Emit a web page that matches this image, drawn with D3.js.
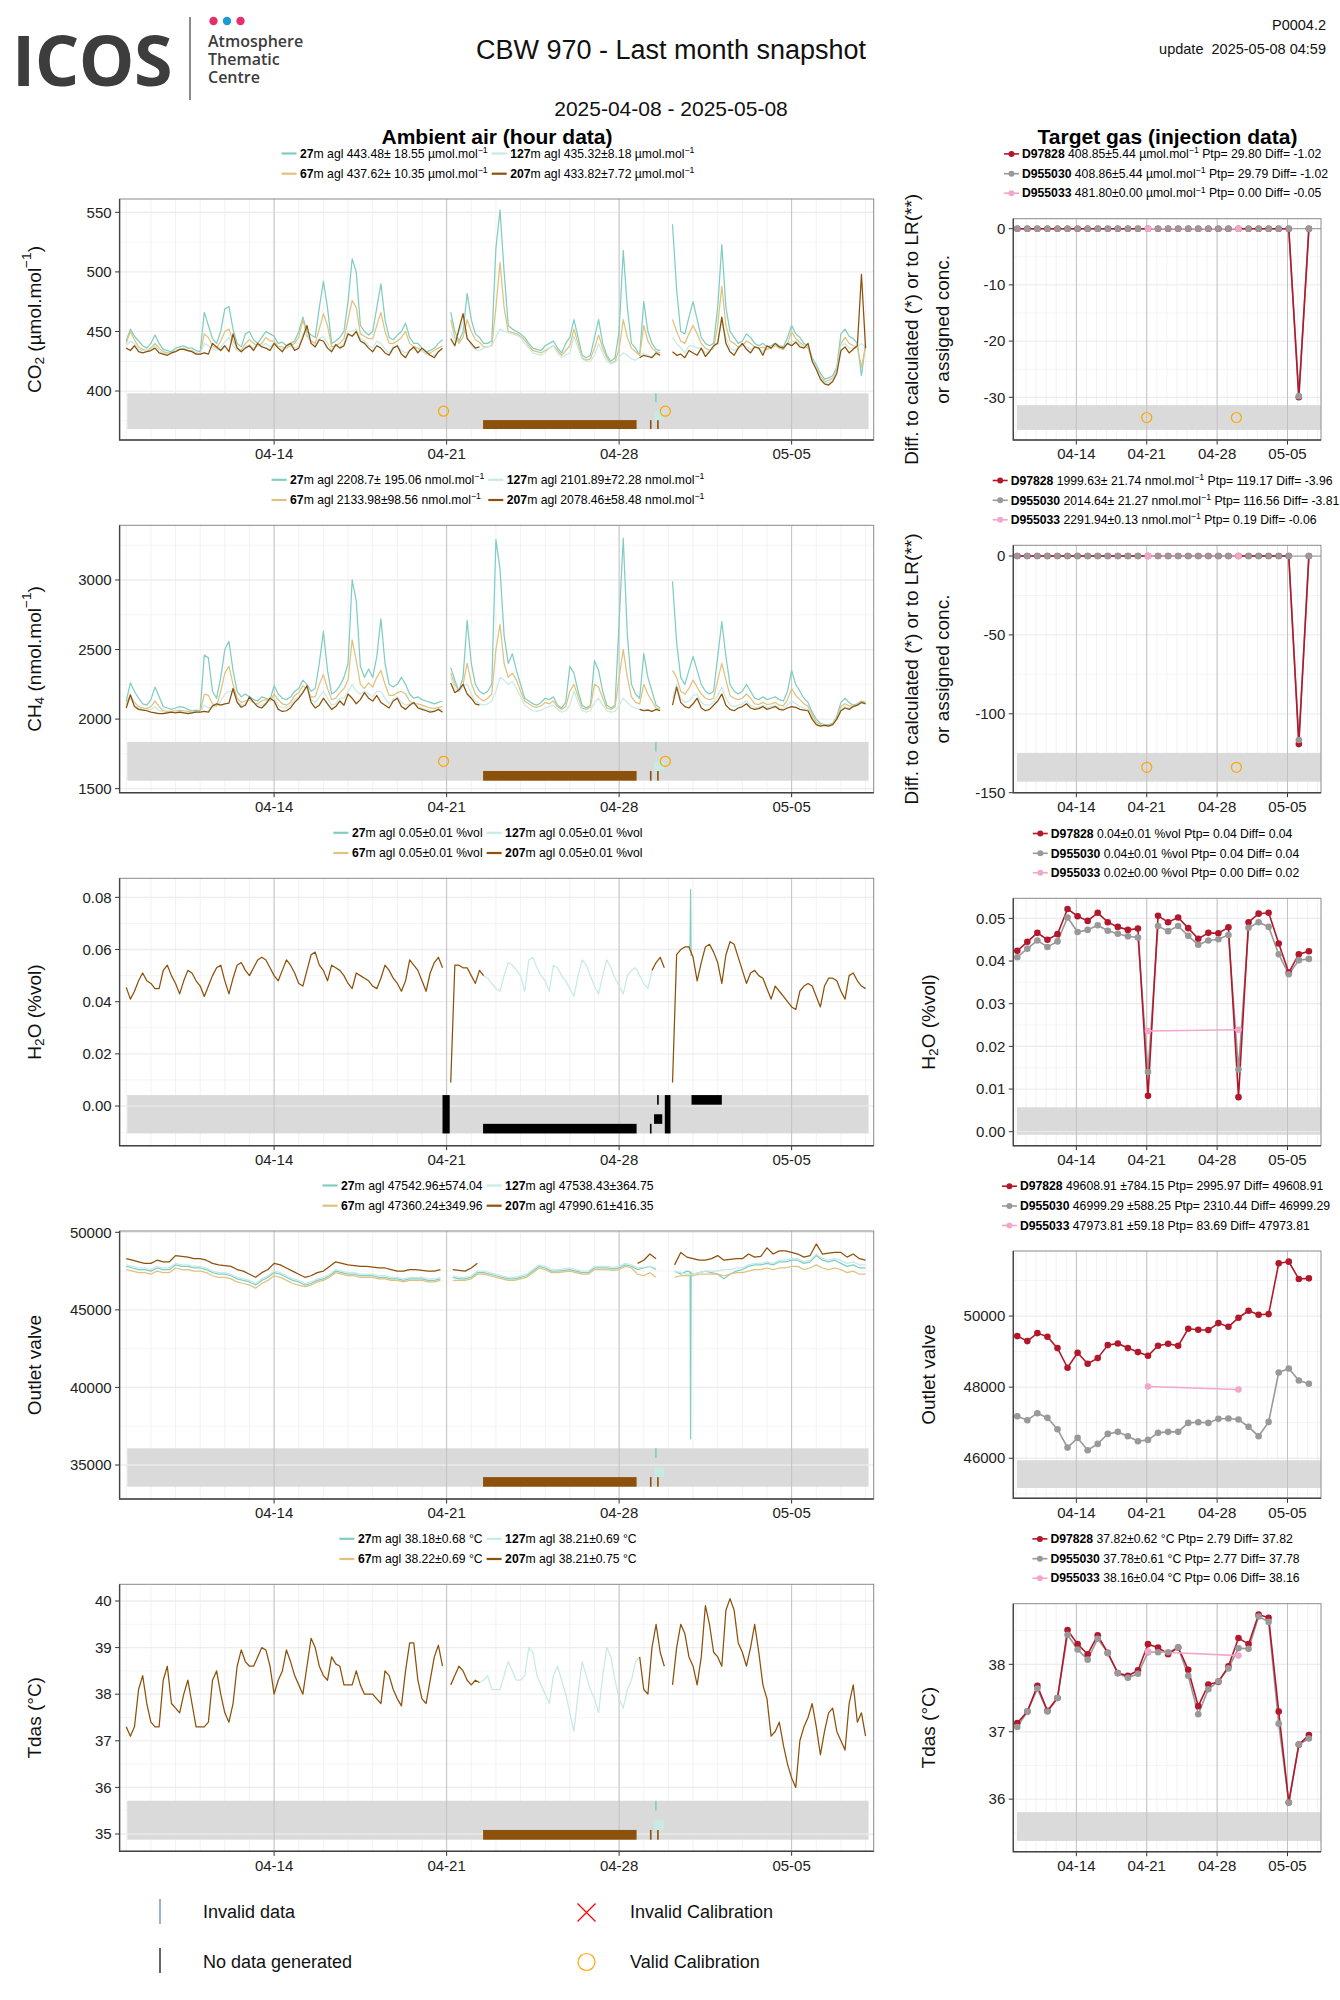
<!DOCTYPE html>
<html>
<head>
<meta charset="utf-8">
<script src="https://cdn.jsdelivr.net/npm/d3@7"></script>
<style>
  body { margin: 0; background: #fff; }
  svg { display: block; }
</style>
</head>
<body>
<script>
const _ = null;
const DAY = 864e5;
const T0 = Date.UTC(2025, 3, 8);           // 2025-04-08 00:00, grids start here

const heights = ["27", "67", "127", "207"];
const heightColors = ["#80cdc1", "#dfc27d", "#c7eae5", "#8c510a"];
const targetIds = ["D97828", "D955030", "D955033"];
const targetColors = ["#b2182b", "#999999", "#f1a7cc"];
const weekTicks = ["2025-04-14", "2025-04-21", "2025-04-28", "2025-05-05"];
const calibrations = ["2025-04-20T21:00Z", "2025-04-29T21:00Z"];
const targetCalibrations = ["2025-04-21T00:00Z", "2025-04-29T22:00Z"];

// CO2, 4-hourly, µmol/mol
const co2_27 = [
  442,452,446,442,438,436, 440,447,440,435,434,433, 436,437,438,436,436,434, 433,466,455,444,440,450,
  469,471,452,440,437,448, 450,443,440,445,450,448, 446,440,441,438,440,442, 450,462,450,447,445,470,
  492,470,440,442,445,450, 475,511,500,455,450,447, 450,470,490,460,445,443, 447,450,457,445,440,440,
  436,433,434,436,440,443, _,466,450,442,450,482, 460,448,445,440,440,442, 520,552,500,455,452,450,
  448,445,440,436,435,434, 438,440,442,436,432,440, 445,460,445,430,428,430, 445,460,440,430,425,428,
  450,518,470,440,436,430, 475,450,440,435,434,_, _,540,485,450,448,462, 475,460,445,440,438,440,
  470,523,470,450,445,440, 442,448,445,440,438,440, 437,438,440,438,437,445, 455,448,445,440,438,428,
  422,415,410,411,413,420, 448,452,446,444,440,413, 440];
const co2_67 = [
  440,450,443,437,435,434, 436,440,436,433,432,432, 434,435,436,434,434,432, 431,448,445,438,436,442,
  450,452,442,436,434,440, 443,440,438,440,445,442, 442,437,437,436,438,440, 445,460,446,442,440,452,
  465,455,437,438,440,444, 460,476,470,448,446,444, 444,455,466,450,440,440, 442,445,450,440,437,436,
  434,431,432,434,436,438, _,460,445,440,445,460, 450,443,441,437,437,438, 470,508,470,450,449,448,
  446,443,438,434,433,432, 434,436,438,434,430,434, 438,452,440,428,426,427, 436,447,436,428,423,425,
  435,460,445,436,433,430, 455,442,436,433,432,_, _,460,450,442,440,448, 455,448,440,436,434,436,
  455,488,455,442,440,437, 438,442,440,437,436,437, 435,436,438,436,435,440, 450,444,441,438,436,426,
  420,412,408,409,411,418, 440,445,440,438,437,420, 437];
const co2_127 = [
  438,442,440,435,434,434, 435,438,434,432,431,432, 434,435,435,434,433,432, 431,440,438,436,434,437,
  441,445,438,434,433,437, 439,436,438,438,440,437, 440,436,435,437,439,436, 438,448,448,440,438,444,
  446,440,434,438,437,440, 450,450,452,444,442,438, 436,442,440,435,432,437, 438,434,432,434,436,433,
  434,431,430,430,433,435, _,450,442,450,458,446, 438,435,434,436,437,438, 445,452,450,449,448,447,
  445,440,436,432,431,430, 432,436,438,432,428,430, 432,446,436,427,425,425, 430,440,432,425,423,424,
  428,432,430,427,426,428, 432,430,429,431,430,_, _,445,440,436,432,438, 438,436,436,432,434,437,
  442,458,445,436,434,436, 439,437,435,437,436,433, 437,436,439,437,436,440, 442,442,439,437,438,427,
  419,411,407,407,410,417, 438,440,436,436,437,440, 437];
const co2_207 = [
  436,434,438,433,432,433, 434,436,432,431,430,432, 433,435,435,434,433,431, 431,432,431,440,437,434,
  438,433,448,436,433,436, 438,434,440,437,436,434, 440,436,433,438,440,434, 436,445,455,440,437,443,
  442,436,433,439,436,438, 448,446,450,442,440,436, 433,438,436,432,430,436, 438,431,428,434,437,432,
  436,433,430,428,433,436, _,444,438,452,465,444, 440,436,437,_,_,_, _,_,_,_,_,_,
  _,_,_,_,_,_, _,_,_,_,_,_, _,_,_,_,_,_, _,_,_,_,_,_,
  _,_,_,_,_,428, 430,429,428,432,430,_, _,433,430,431,428,434, 432,430,436,429,433,438,
  440,462,440,433,430,436, 440,435,432,437,436,430, 438,436,440,437,436,440, 438,441,437,436,440,425,
  418,410,406,405,408,415, 434,437,432,435,438,498, 436];

// CH4, 4-hourly, nmol/mol
const ch4_27 = [
  2130,2260,2200,2150,2110,2100, 2140,2230,2160,2090,2080,2070, 2080,2090,2085,2070,2060,2065, 2060,2460,2440,2200,2150,2300,
  2500,2560,2350,2200,2160,2180, 2160,2140,2130,2160,2150,2140, 2240,2180,2150,2140,2160,2200, 2220,2280,2250,2200,2220,2400,
  2630,2350,2180,2200,2240,2300, 2400,3000,2850,2380,2300,2360, 2300,2450,2720,2400,2250,2230, 2250,2300,2250,2180,2150,2160,
  2140,2130,2120,2110,2120,2130, _,2370,2280,2200,2300,2710, 2400,2250,2200,2180,2200,2250, 3290,3080,2600,2400,2470,2350,
  2250,2150,2130,2110,2100,2120, 2150,2140,2160,2100,2080,2120, 2380,2330,2200,2100,2080,2100, 2420,2350,2200,2100,2080,2100,
  2700,3300,2600,2250,2180,2150, 2470,2300,2200,2100,2080,_, _,2990,2550,2300,2250,2350, 2450,2350,2250,2200,2180,2200,
  2450,2700,2450,2250,2200,2180, 2200,2250,2200,2150,2140,2160, 2140,2150,2160,2140,2130,2200, 2350,2250,2200,2150,2120,2050,
  2000,1970,1960,1960,1970,2020, 2120,2150,2120,2100,2110,2130, 2120];
const ch4_67 = [
  2110,2170,2120,2090,2080,2075, 2090,2130,2090,2060,2055,2055, 2060,2065,2060,2055,2050,2055, 2050,2180,2170,2110,2090,2200,
  2330,2380,2250,2150,2120,2130, 2140,2120,2110,2130,2140,2130, 2180,2140,2110,2100,2120,2170, 2190,2240,2220,2160,2160,2250,
  2320,2220,2140,2150,2190,2220, 2280,2570,2420,2250,2220,2260, 2230,2300,2350,2250,2170,2170, 2190,2200,2180,2130,2110,2110,
  2100,2090,2080,2075,2085,2090, _,2330,2250,2200,2250,2400, 2260,2180,2150,2130,2150,2180, 2500,2680,2400,2300,2330,2280,
  2200,2130,2110,2090,2085,2095, 2120,2110,2130,2090,2070,2090, 2200,2250,2160,2080,2070,2085, 2250,2230,2150,2080,2070,2085,
  2300,2500,2300,2160,2120,2110, 2250,2180,2130,2080,2070,_, _,2350,2300,2200,2180,2220, 2280,2230,2180,2150,2140,2150,
  2280,2400,2280,2170,2150,2140, 2150,2180,2150,2110,2105,2120, 2105,2110,2120,2100,2095,2140, 2220,2170,2140,2110,2090,2030,
  1980,1960,1955,1955,1965,2010, 2090,2110,2095,2095,2105,2125, 2115];
const ch4_127 = [
  2100,2150,2100,2080,2070,2065, 2070,2090,2060,2050,2045,2050, 2050,2055,2050,2045,2045,2050, 2050,2100,2080,2090,2090,2130,
  2180,2200,2200,2130,2100,2110, 2150,2120,2100,2100,2120,2140, 2150,2100,2080,2080,2100,2140, 2160,2200,2230,2140,2120,2160,
  2200,2150,2100,2110,2150,2150, 2200,2250,2200,2180,2200,2180, 2160,2200,2200,2150,2110,2140, 2160,2120,2100,2110,2120,2090,
  2080,2070,2060,2060,2075,2065, _,2300,2220,2200,2240,2250, 2180,2130,2110,2100,2110,2130, 2200,2300,2280,2250,2270,2220,
  2160,2100,2080,2060,2055,2065, 2080,2090,2100,2070,2050,2060, 2100,2200,2120,2060,2050,2060, 2120,2150,2100,2060,2050,2055,
  2100,2150,2120,2090,2080,2070, 2070,2070,2060,2070,2060,_, _,2150,2250,2150,2120,2130, 2170,2180,2120,2100,2100,2120,
  2170,2230,2150,2100,2090,2100, 2110,2130,2100,2085,2085,2100, 2085,2090,2100,2080,2075,2100, 2130,2110,2090,2080,2070,2010,
  1965,1955,1955,1952,1962,2005, 2070,2090,2080,2090,2100,2120, 2112];
const ch4_207 = [
  2080,2175,2090,2070,2065,2060, 2050,2045,2040,2040,2045,2050, 2045,2050,2045,2040,2045,2050, 2050,2055,2050,2095,2110,2100,
  2110,2115,2220,2120,2085,2100, 2160,2120,2090,2080,2110,2150, 2130,2070,2055,2060,2080,2120, 2150,2190,2240,2120,2080,2100,
  2150,2110,2070,2090,2130,2100, 2180,2150,2110,2140,2190,2150, 2130,2170,2120,2100,2080,2130, 2150,2090,2070,2100,2120,2080,
  2070,2060,2050,2055,2070,2050, _,2260,2190,2210,2250,2180, 2150,2110,2100,_,_,_, _,_,_,_,_,_,
  _,_,_,_,_,_, _,_,_,_,_,_, _,_,_,_,_,_, _,_,_,_,_,_,
  _,_,_,_,_,2070, 2060,2065,2055,2070,2060,_, _,2100,2230,2120,2090,2080, 2110,2150,2080,2060,2070,2100,
  2130,2180,2100,2070,2060,2080, 2090,2110,2080,2070,2075,2090, 2070,2080,2090,2070,2065,2080, 2090,2085,2070,2065,2060,2000,
  1960,1950,1955,1950,1960,2000, 2060,2080,2070,2090,2100,2120, 2110];

// H2O, 4-hourly, %vol
const h2o_127 = [
  _,_,_,_,_,_, _,_,_,_,_,_, _,_,_,_,_,_, _,_,_,_,_,_,
  _,_,_,_,_,_, _,_,_,_,_,_, _,_,_,_,_,_, _,_,_,_,_,_,
  _,_,_,_,_,_, _,_,_,_,_,_, _,_,_,_,_,_, _,_,_,_,_,_,
  _,_,_,_,_,_, _,_,_,_,_,_, _,_,0.052,0.050,0.049,0.047, 0.045,0.044,0.050,0.055,0.054,0.052,
  0.050,0.044,0.056,0.057,0.053,0.050, 0.048,0.044,0.054,0.053,0.050,0.048, 0.045,0.042,0.050,0.056,0.054,0.050, 0.046,0.043,0.050,0.056,0.053,0.049,
  0.046,0.043,0.050,0.052,0.053,0.050, 0.047,0.045,0.052,_,_,_, _,_,_,_,_,_, _,_,_,_,_,_,
  _,_,_,_,_,_, _,_,_,_,_,_, _,_,_,_,_,_, _,_,_,_,_,_,
  _,_,_,_,_,_, _,_,_,_,_,_, _];
const h2o_207 = [
  0.0455,0.041,0.044,0.048,0.051,0.048, 0.047,0.045,0.045,0.052,0.054,0.050, 0.047,0.043,0.048,0.052,0.051,0.048, 0.046,0.042,0.046,0.050,0.053,0.054,
  0.048,0.043,0.049,0.054,0.055,0.052, 0.050,0.053,0.056,0.057,0.056,0.053, 0.050,0.048,0.052,0.056,0.054,0.051, 0.047,0.046,0.052,0.058,0.059,0.054,
  0.052,0.048,0.054,0.053,0.052,0.050, 0.047,0.045,0.051,0.050,0.049,0.048, 0.046,0.045,0.049,0.054,0.052,0.049, 0.047,0.044,0.048,0.056,0.054,0.052,
  0.048,0.044,0.051,0.055,0.057,0.053, _,0.009,0.054,0.054,0.053,0.053, 0.050,0.047,0.052,0.050,_,_, _,_,_,_,_,_,
  _,_,_,_,_,_, _,_,_,_,_,_, _,_,_,_,_,_, _,_,_,_,_,_,
  _,_,_,_,_,_, _,_,0.052,0.055,0.057,0.053, _,0.009,0.058,0.060,0.061,0.061, 0.057,0.048,0.055,0.061,0.062,0.059,
  0.055,0.047,0.058,0.063,0.062,0.057, 0.052,0.047,0.051,0.052,0.050,0.049, 0.045,0.041,0.046,0.044,0.042,0.040, 0.038,0.037,0.044,0.046,0.047,0.046,
  0.042,0.038,0.046,0.049,0.049,0.048, 0.044,0.041,0.050,0.051,0.048,0.046, 0.045];
const h2o_27_spike = [[22.84, 0.0605], [22.88, 0.062], [22.9, 0.083], [22.92, 0.0575]];

// Outlet valve, 6-hourly
const out_27 = [
  47800,47700,47600,47600, 47500,47700,47600,47600, 47900,47800,47800,47700, 47700,47600,47400,47300,
  47300,47200,47000,46900, 46800,46600,46900,47100, 47400,47300,47100,46900, 46800,46600,46700,46900,
  47000,47200,47500,47400, 47300,47300,47200,47200, 47200,47100,47100,47000, 47000,46900,47000,47000,
  47000,46900,46900,47000, _,47100,47000,47000, 47100,47400,47400,47300, 47200,47100,47000,47000,
  47100,47200,47500,47800, 47700,47500,47500,47550, 47600,47500,47400,47400, 47700,47700,47700,47650,
  47700,47900,47800,47600, 47700,47800,47600,_, _,47500,47300,47500, 47300,47400,47500,47400,
  47300,47000,47300,47500, 47600,47800,47900,47900, 48000,47900,48100,48100, 48200,48200,48000,48100,
  48500,48200,48100,48200, 48000,47800,47900,47700, 47700];
const out_27_spike = [[22.88, 47450], [22.9, 36700], [22.92, 47400]];
const out_67 = [
  47600,47500,47400,47400, 47300,47500,47400,47400, 47700,47600,47600,47500, 47500,47400,47200,47100,
  47100,47000,46800,46700, 46600,46400,46700,46900, 47200,47100,46900,46700, 46600,46500,46600,46800,
  46900,47100,47400,47300, 47200,47200,47100,47100, 47100,47000,47000,46900, 46900,46800,46900,46900,
  46900,46800,46800,46900, _,46900,46900,46900, 47000,47300,47300,47200, 47100,47000,46900,46900,
  47000,47100,47400,47700, 47600,47400,47400,47450, 47500,47400,47300,47300, 47600,47600,47600,47550,
  47600,47800,47700,47300, 47200,47400,47100,_, _,47100,47200,47200, 47200,47300,47300,47300,
  47300,47200,47300,47400, 47400,47500,47600,47600, 47700,47600,47700,47700, 47800,47800,47600,47700,
  47900,47700,47600,47700, 47600,47400,47500,47300, 47300];
const out_127 = [
  47900,47800,47700,47700, 47600,47800,47700,47700, 48000,47900,47900,47800, 47800,47700,47500,47400,
  47400,47300,47100,47000, 46900,46700,47000,47200, 47500,47400,47200,47000, 46900,46700,46800,47000,
  47100,47300,47600,47500, 47400,47400,47300,47300, 47300,47200,47200,47100, 47100,47000,47100,47100,
  47100,47000,47000,47100, _,47200,47100,47100, 47200,47500,47500,47400, 47300,47200,47100,47100,
  47200,47300,47600,47900, 47800,47600,47600,47650, 47700,47600,47500,47500, 47800,47800,47800,47750,
  47800,48000,47900,47700, 47750,47800,47700,_, _,47500,47400,47300, 47300,47400,47500,47500,
  47500,47600,47600,47700, 47700,47900,48000,48000, 48100,48000,48200,48200, 48300,48300,48100,48200,
  48600,48300,48200,48300, 48200,48000,48100,47900, 47900];
const out_207 = [
  48300,48200,48100,48000, 48000,48200,48100,48100, 48500,48450,48400,48300, 48300,48200,48000,47900,
  47850,47800,47600,47500, 47300,47100,47400,47600, 48000,47900,47700,47500, 47300,47100,47200,47400,
  47500,47800,48100,48000, 47900,47850,47800,47800, 47750,47700,47700,47600, 47500,47500,47600,47600,
  47550,47500,47500,47600, _,47600,47550,47500, 47700,48000,_,_, _,_,_,_,
  _,_,_,_, _,_,_,_, _,_,_,_, _,_,_,_,
  _,_,_,48000, 48200,48600,48300,_, _,47900,48700,48400, 48300,48200,48200,48300,
  48500,48200,48250,48300, 48300,48600,48400,48450, 49000,48600,48800,48800, 48700,48600,48400,48500,
  49250,48600,48650,48700, 48700,48400,48600,48300, 48200];

// Tdas, 4-hourly, °C
const tdas_127 = [
  _,_,_,_,_,_, _,_,_,_,_,_, _,_,_,_,_,_, _,_,_,_,_,_,
  _,_,_,_,_,_, _,_,_,_,_,_, _,_,_,_,_,_, _,_,_,_,_,_,
  _,_,_,_,_,_, _,_,_,_,_,_, _,_,_,_,_,_, _,_,_,_,_,_,
  _,_,_,_,_,_, _,_,_,_,_,_, _,_,38.25,38.3,38.4,38.1, 38.1,38.1,38.4,38.7,38.5,38.3,
  38.3,38.4,39.0,38.9,38.4,38.2, 38.0,37.8,38.4,38.6,38.3,38.0, 37.6,37.2,38.0,38.7,38.4,38.1, 37.9,37.6,38.4,39.0,38.8,38.3,
  37.9,37.7,38.1,38.3,38.7,38.8, _,_,_,_,_,_, _,_,_,_,_,_, _,_,_,_,_,_,
  _,_,_,_,_,_, _,_,_,_,_,_, _,_,_,_,_,_, _,_,_,_,_,_,
  _,_,_,_,_,_, _,_,_,_,_,_, _];
const tdas_207 = [
  37.3,37.1,37.3,38.1,38.4,37.8, 37.4,37.3,37.3,38.3,38.6,37.8, 37.7,37.6,38.0,38.3,37.8,37.3, 37.3,37.3,37.4,38.3,38.5,38.0,
  37.6,37.4,37.8,38.6,38.95,38.7, 38.6,38.6,38.8,39.0,38.95,38.6, 38.0,38.3,38.5,38.95,38.7,38.4, 38.2,38.0,38.6,39.2,39.0,38.6,
  38.4,38.3,38.8,38.65,38.6,38.2, 38.2,38.2,38.5,38.2,38.0,38.0, 38.0,37.9,37.8,38.5,38.4,38.1, 37.9,37.75,38.5,39.1,39.1,38.3,
  37.9,37.8,38.3,38.8,39.05,38.6, _,38.2,38.4,38.6,38.5,38.3, 38.2,38.3,38.25,_,_,_, _,_,_,_,_,_,
  _,_,_,_,_,_, _,_,_,_,_,_, _,_,_,_,_,_, _,_,_,_,_,_,
  _,_,_,_,_,38.8, 38.1,38.0,39.0,39.5,38.9,38.6, _,38.2,39.0,39.5,39.3,38.8, 38.6,38.2,38.8,39.9,39.5,38.9,
  38.8,38.6,39.8,40.05,39.8,39.1, 38.9,38.6,39.0,39.5,38.9,38.2, 37.9,37.1,37.2,37.4,36.9,36.5, 36.2,36.0,37.0,37.3,37.5,37.8,
  37.3,36.7,37.2,37.6,37.7,37.2, 37.0,36.8,37.8,38.2,37.4,37.6, 37.1];

// Target gas injections, one per day (04-08 .. 05-07)
const co2T_red  = [0,0,0,0,0,0,0,0,0,0,0,0,0,0,0,0,0,0,0,0,0,0,0,0,0,0,0,0,-30.0,0];
const co2T_gray = [0,0,0,0,0,0,0,0,0,0,0,0,0,0,0,0,0,0,0,0,0,0,0,0,0,0,0,0,-29.8,0];
const co2T_pink = [0, 0];
const ch4T_red  = [0,0,0,0,0,0,0,0,0,0,0,0,0,0,0,0,0,0,0,0,0,0,0,0,0,0,0,0,-119.2,0];
const ch4T_gray = [0,0,0,0,0,0,0,0,0,0,0,0,0,0,0,0,0,0,0,0,0,0,0,0,0,0,0,0,-116.6,0];
const ch4T_pink = [0, 0];
const h2oT_red  = [0.0424,0.0445,0.0466,0.0450,0.0463,0.0522,0.0505,0.0494,0.0513,0.0491,0.0480,0.0473,0.0476,0.0084,0.0506,
                   0.0491,0.0502,0.0477,0.0452,0.0466,0.0465,0.0479,0.0081,0.0491,0.0511,0.0513,0.0441,0.0373,0.0416,0.0423];
const h2oT_gray = [0.0409,0.0429,0.0448,0.0433,0.0446,0.0502,0.0468,0.0473,0.0484,0.0471,0.0464,0.0458,0.0455,0.0140,0.0482,
                   0.0470,0.0482,0.0459,0.0438,0.0448,0.0451,0.0461,0.0146,0.0478,0.0491,0.0480,0.0416,0.0369,0.0402,0.0405];
const h2oT_pink = [0.0236, 0.0239];
const outT_red  = [49437,49296,49521,49418,49099,48545,48967,48657,48817,49183,49230,49099,48986,48883,49164,
                   49221,49164,49643,49615,49606,49803,49700,49953,50150,50038,50056,51484,51531,51042,51061];
const outT_gray = [47183,47070,47267,47136,46817,46300,46573,46225,46404,46685,46742,46620,46479,46516,46714,
                   46742,46742,46995,47014,46995,47108,47117,47089,46883,46620,47023,48413,48526,48188,48094];
const outT_pink = [48019, 47934];
const tdasT_red  = [37.13,37.30,37.68,37.31,37.50,38.51,38.30,38.15,38.43,38.17,37.87,37.83,37.91,38.30,38.25,
                    38.15,38.25,37.92,37.38,37.70,37.74,37.97,38.39,38.30,38.74,38.69,37.30,35.95,36.81,36.95];
const tdasT_gray = [37.07,37.30,37.64,37.30,37.50,38.44,38.22,38.07,38.38,38.17,37.87,37.80,37.86,38.18,38.18,
                    38.18,38.25,37.83,37.26,37.63,37.75,37.94,38.24,38.23,38.71,38.63,37.12,35.95,36.81,36.90];
const tdasT_pink = [38.19, 38.13];
const pinkIndex = [13, 22];

// flag bars in the grey strip: [from, to, row (1..4, 0 = all), colour]
const flagsStd = [
  ["2025-04-22T11:30Z", "2025-04-28T17:00Z", 4, "#8c510a"],
  ["2025-04-29T06:00Z", "2025-04-29T06:50Z", 4, "#8c510a"],
  ["2025-04-29T13:00Z", "2025-04-29T13:50Z", 4, "#8c510a"],
  ["2025-04-29T10:00Z", "2025-04-29T20:00Z", 3, "#c7eae5"],
  ["2025-04-29T11:00Z", "2025-04-29T11:50Z", 1, "#80cdc1"]
];
const flagsH2O = [
  ["2025-04-20T20:00Z", "2025-04-21T03:00Z", 0, "#000"],
  ["2025-04-22T11:30Z", "2025-04-28T17:00Z", 4, "#000"],
  ["2025-04-29T06:00Z", "2025-04-29T06:50Z", 4, "#000"],
  ["2025-04-29T13:00Z", "2025-04-29T13:50Z", 1, "#000"],
  ["2025-04-29T10:00Z", "2025-04-29T18:00Z", 3, "#000"],
  ["2025-04-29T20:30Z", "2025-04-30T02:00Z", 0, "#000"],
  ["2025-04-30T22:30Z", "2025-05-02T04:00Z", 1, "#000"]
];

// legend statistics
const co2Stats  = ["443.48\u00b1 18.55 ", "437.62\u00b1 10.35 ", "435.32\u00b18.18 ", "433.82\u00b17.72 "];
const ch4Stats  = ["2208.7\u00b1 195.06 ", "2133.98\u00b198.56 ", "2101.89\u00b172.28 ", "2078.46\u00b158.48 "];
const h2oStats  = ["0.05\u00b10.01 %vol", "0.05\u00b10.01 %vol", "0.05\u00b10.01 %vol", "0.05\u00b10.01 %vol"];
const outStats  = ["47542.96\u00b1574.04", "47360.24\u00b1349.96", "47538.43\u00b1364.75", "47990.61\u00b1416.35"];
const tdasStats = ["38.18\u00b10.68 \u00b0C", "38.22\u00b10.69 \u00b0C", "38.21\u00b10.69 \u00b0C", "38.21\u00b10.75 \u00b0C"];
const co2TStats  = ["408.85\u00b15.44 ", "408.86\u00b15.44 ", "481.80\u00b10.00 "];
const co2TTail   = ["Ptp= 29.80 Diff= -1.02", "Ptp= 29.79 Diff= -1.02", "Ptp= 0.00 Diff= -0.05"];
const ch4TStats  = ["1999.63\u00b1 21.74 ", "2014.64\u00b1 21.27 ", "2291.94\u00b10.13 "];
const ch4TTail   = ["Ptp= 119.17 Diff= -3.96", "Ptp= 116.56 Diff= -3.81", "Ptp= 0.19 Diff= -0.06"];
const h2oTStats  = ["0.04\u00b10.01 %vol Ptp= 0.04 Diff= 0.04", "0.04\u00b10.01 %vol Ptp= 0.04 Diff= 0.04", "0.02\u00b10.00 %vol Ptp= 0.00 Diff= 0.02"];
const outTStats  = ["49608.91 \u00b1784.15  Ptp= 2995.97 Diff= 49608.91", "46999.29 \u00b1588.25  Ptp= 2310.44 Diff= 46999.29", "47973.81 \u00b159.18  Ptp= 83.69 Diff= 47973.81"];
const tdasTStats = ["37.82\u00b10.62 \u00b0C Ptp= 2.79 Diff= 37.82", "37.78\u00b10.61 \u00b0C Ptp= 2.77 Diff= 37.78", "38.16\u00b10.04 \u00b0C Ptp= 0.06 Diff= 38.16"];

// ---- drawing ----
const W = 1340, H = 2000;
const FONT = "'Liberation Sans', Arial, Helvetica, sans-serif";
const svg = d3.select("body").append("svg")
  .attr("width", W).attr("height", H)
  .attr("viewBox", [0, 0, W, H])
  .style("font-family", FONT);
svg.append("rect").attr("width", W).attr("height", H).attr("fill", "#fff");

const xDomain = [new Date(T0 - 0.27 * DAY), new Date(T0 + 30.33 * DAY)];
const xMain = d3.scaleUtc().domain(xDomain).range([119.6, 873.7]);
const xTarget = d3.scaleUtc().domain(xDomain).range([1013.3, 1321]);
const days = d3.utcDay.range(d3.utcDay.ceil(xDomain[0]), xDomain[1]);
const weeks = weekTicks.map(s => new Date(s + "T00:00Z"));

function grid(vals, stepH) {
  return vals.map((v, i) => ({ t: new Date(T0 + i * stepH * 36e5), v }));
}
function pairs(arr) {
  return arr.map(([d, v]) => ({ t: new Date(T0 + d * DAY), v }));
}
function merged(vals, stepH, extra) {
  return grid(vals, stepH).concat(pairs(extra)).sort((a, b) => a.t - b.t);
}

// text with bold / superscript / subscript pieces
function rich(t, parts, fs) {
  let shift = 0;
  parts.forEach(([s, k]) => {
    const ts = t.append("tspan").text(s);
    if (k === "b") ts.attr("font-weight", "bold");
    if (k === "sup" || k === "sub") {
      const dy = k === "sup" ? -fs * 0.4 : fs * 0.28;
      ts.attr("font-size", fs * 0.72).attr("dy", dy);
      shift = dy;
    } else if (shift) {
      ts.attr("dy", -shift);
      shift = 0;
    }
  });
  return t;
}

function fmtNum(v, dec) {
  return dec ? v.toFixed(dec) : String(Math.round(v));
}

function drawFrame(p, x) {
  const [L, R] = x.range();
  const y = d3.scaleLinear().domain(p.y).range([p.bottom, p.top]);
  const g = svg.append("g");
  const step = p.ticks[1] - p.ticks[0];
  const minors = d3.range(p.ticks[0] - step / 2, p.y[1], step).filter(v => v > p.y[0] && v < p.y[1]);

  g.selectAll(".minY").data(minors).join("line")
    .attr("x1", L).attr("x2", R).attr("y1", d => y(d)).attr("y2", d => y(d))
    .attr("stroke", "#f0f0f0").attr("stroke-width", 0.7);
  g.selectAll(".minX").data(days).join("line")
    .attr("x1", d => x(d)).attr("x2", d => x(d)).attr("y1", p.top).attr("y2", p.bottom)
    .attr("stroke", "#ececec").attr("stroke-width", 0.7);

  // grey flag strip
  g.append("rect")
    .attr("x", x(new Date(T0)) + 1).attr("width", x(new Date(T0 + 30 * DAY)) - x(new Date(T0)) + 2)
    .attr("y", y(p.band[1])).attr("height", y(p.band[0]) - y(p.band[1]))
    .attr("fill", "#dadada");

  g.selectAll(".majY").data(p.ticks.filter(v => v >= p.y[0] && v <= p.y[1])).join("line")
    .attr("x1", L).attr("x2", R).attr("y1", d => y(d)).attr("y2", d => y(d))
    .attr("stroke", "#ebebeb").attr("stroke-width", 1.3).attr("stroke-opacity", 0.9);
  g.selectAll(".majX").data(weeks).join("line")
    .attr("x1", d => x(d)).attr("x2", d => x(d)).attr("y1", p.top).attr("y2", p.bottom)
    .attr("stroke", "#c2c2c2").attr("stroke-width", 1);

  // axes
  const yAxis = g.append("g");
  yAxis.selectAll("line").data(p.ticks).join("line")
    .attr("x1", L - 4.5).attr("x2", L).attr("y1", d => y(d)).attr("y2", d => y(d))
    .attr("stroke", "#333").attr("stroke-width", 1);
  yAxis.selectAll("text").data(p.ticks).join("text")
    .attr("x", L - 8).attr("y", d => y(d)).attr("dy", "0.35em")
    .attr("text-anchor", "end").attr("font-size", 15).attr("fill", "#222")
    .text(d => fmtNum(d, p.dec));
  const xAxis = g.append("g");
  xAxis.selectAll("line").data(weeks).join("line")
    .attr("x1", d => x(d)).attr("x2", d => x(d)).attr("y1", p.bottom).attr("y2", p.bottom + 4.5)
    .attr("stroke", "#333").attr("stroke-width", 1);
  xAxis.selectAll("text").data(weeks).join("text")
    .attr("x", d => x(d)).attr("y", p.bottom + 14).attr("dy", "0.35em")
    .attr("text-anchor", "middle").attr("font-size", 15).attr("fill", "#222")
    .text(d3.utcFormat("%m-%d"));

  return { y, g, L, R };
}

function drawBorder(p, L, R) {
  svg.append("rect").attr("x", L).attr("y", p.top).attr("width", R - L).attr("height", p.bottom - p.top)
    .attr("fill", "none").attr("stroke", "#8a8a8a").attr("stroke-width", 1);
  svg.append("path").attr("d", `M${L},${p.top}V${p.bottom}H${R}`)
    .attr("fill", "none").attr("stroke", "#444").attr("stroke-width", 1.4);
}

function drawFlags(p, x, y, flags) {
  const top = y(p.band[1]), bot = y(p.band[0]);
  const rowH = (bot - top) / 4;
  flags.forEach(([a, b, row, col]) => {
    const x0 = x(new Date(a)), x1 = x(new Date(b));
    svg.append("rect")
      .attr("x", x0).attr("width", Math.max(1.6, x1 - x0))
      .attr("y", row ? top + (row - 1) * rowH : top).attr("height", row ? rowH : bot - top)
      .attr("fill", col);
  });
}

function drawCal(p, x, y, dates) {
  const cy = y((p.band[0] + p.band[1]) / 2);
  dates.forEach(s => {
    svg.append("circle").attr("cx", x(new Date(s))).attr("cy", cy).attr("r", 5)
      .attr("fill", "none").attr("stroke", "#ffa500").attr("stroke-width", 1.2);
  });
}

function yTitle(cx, cy, parts) {
  const t = svg.append("text").attr("transform", `translate(${cx},${cy}) rotate(-90)`)
    .attr("text-anchor", "middle").attr("dominant-baseline", "central")
    .attr("font-size", 19).attr("fill", "#111");
  rich(t, parts, 19);
}

// legend for the hourly panels: two columns, centred
function mainLegend(p, stats, unitParts) {
  const rows = [p.top - 45.5, p.top - 25.3];
  const order = [[0, 1], [2, 3]];   // columns: (27, 67) and (127, 207)
  const g = svg.append("g");
  const cols = order.map(col => col.map((k, r) => {
    const t = g.append("text").attr("y", rows[r]).attr("dy", "0.35em").attr("font-size", 12.2);
    rich(t, [[heights[k], "b"], ["m agl " + stats[k], ""]].concat(unitParts), 12.2);
    return { t, k, r, w: t.node().getComputedTextLength() };
  }));
  const colW = cols.map(c => d3.max(c, d => d.w));
  const key = 15, gap = 3.5, colGap = 4;
  const total = key + gap + colW[0] + colGap + key + gap + colW[1];
  let x0 = 488 - total / 2;
  cols.forEach((c, ci) => {
    c.forEach(d => {
      g.append("line").attr("x1", x0).attr("x2", x0 + key).attr("y1", rows[d.r]).attr("y2", rows[d.r])
        .attr("stroke", heightColors[d.k]).attr("stroke-width", 2.2);
      d.t.attr("x", x0 + key + gap);
    });
    x0 += key + gap + colW[ci] + colGap;
  });
}

function targetLegend(p, stats, unitParts, tails) {
  const rows = [p.top - 64.8, p.top - 45, p.top - 25.5];
  const g = svg.append("g");
  const items = targetIds.map((id, i) => {
    const t = g.append("text").attr("y", rows[i]).attr("dy", "0.35em").attr("font-size", 12.2);
    let parts = [[id, "b"], [" " + stats[i], ""]];
    if (unitParts) parts = parts.concat(unitParts, [[" " + tails[i], ""]]);
    rich(t, parts, 12.2);
    return { t, w: t.node().getComputedTextLength() };
  });
  const key = 15, gap = 3;
  const total = key + gap + d3.max(items, d => d.w);
  const x0 = 1166 - total / 2;
  items.forEach((d, i) => {
    g.append("line").attr("x1", x0).attr("x2", x0 + key).attr("y1", rows[i]).attr("y2", rows[i])
      .attr("stroke", targetColors[i]).attr("stroke-width", 1.6);
    g.append("circle").attr("cx", x0 + key / 2).attr("cy", rows[i]).attr("r", 3).attr("fill", targetColors[i]);
    d.t.attr("x", x0 + key + gap);
  });
}

// ---- main (hourly) panels ----
const umol = [["\u00b5mol.mol", ""], ["\u22121", "sup"]];
const nmol = [["nmol.mol", ""], ["\u22121", "sup"]];

const mainPanels = [
  { top: 199, bottom: 440, y: [358.9, 561.2], ticks: [400, 450, 500, 550], band: [368.1, 398.1],
    series: [grid(co2_27, 4), grid(co2_67, 4), grid(co2_127, 4), grid(co2_207, 4)],
    colors: heightColors, flags: flagsStd, cal: true, stats: co2Stats, unit: umol,
    title: [["CO", ""], ["2", "sub"], [" (\u00b5mol.mol", ""], ["\u22121", "sup"], [")", ""]] },
  { top: 525.3, bottom: 792.7, y: [1471, 3393], ticks: [1500, 2000, 2500, 3000], band: [1557.5, 1836],
    series: [grid(ch4_27, 4), grid(ch4_67, 4), grid(ch4_127, 4), grid(ch4_207, 4)],
    colors: heightColors, flags: flagsStd, cal: true, stats: ch4Stats, unit: nmol,
    title: [["CH", ""], ["4", "sub"], [" (nmol.mol", ""], ["\u22121", "sup"], [")", ""]] },
  { top: 878.3, bottom: 1145.7, y: [-0.0152, 0.0873], ticks: [0, 0.02, 0.04, 0.06, 0.08], dec: 2,
    band: [-0.0105, 0.0042],
    series: [pairs(h2o_27_spike), grid(h2o_127, 4), grid(h2o_207, 4)],
    colors: [heightColors[0], heightColors[2], heightColors[3]], flags: flagsH2O, cal: false,
    stats: h2oStats, unit: [],
    title: [["H", ""], ["2", "sub"], ["O (%vol)", ""]] },
  { top: 1231, bottom: 1499, y: [32808, 50084], ticks: [35000, 40000, 45000, 50000], band: [33600, 36076],
    series: [merged(out_27, 6, out_27_spike), grid(out_67, 6), grid(out_127, 6), grid(out_207, 6)],
    colors: heightColors, flags: flagsStd, cal: false, stats: outStats, unit: [],
    title: [["Outlet valve", ""]] },
  { top: 1584.3, bottom: 1851.3, y: [34.629, 40.358], ticks: [35, 36, 37, 38, 39, 40], band: [34.878, 35.714],
    series: [grid(tdas_127, 4), grid(tdas_207, 4)],
    colors: [heightColors[2], heightColors[3]], flags: flagsStd, cal: false, stats: tdasStats, unit: [],
    title: [["Tdas (\u00b0C)", ""]] }
];

mainPanels.forEach((p, i) => {
  const { y, L, R } = drawFrame(p, xMain);
  drawFlags(p, xMain, y, p.flags);
  if (p.cal) drawCal(p, xMain, y, calibrations);
  const clip = "clipM" + i;
  svg.append("clipPath").attr("id", clip).append("rect")
    .attr("x", L).attr("y", p.top).attr("width", R - L).attr("height", p.bottom - p.top);
  const line = d3.line().defined(d => d.v != null).x(d => xMain(d.t)).y(d => y(d.v));
  p.series.forEach((s, k) => {
    svg.append("path").datum(s).attr("clip-path", `url(#${clip})`)
      .attr("fill", "none").attr("stroke", p.colors[k]).attr("stroke-width", 1.25)
      .attr("stroke-linejoin", "round").attr("d", line);
  });
  drawBorder(p, L, R);
  mainLegend(p, p.stats, p.unit);
  yTitle(34, (p.top + p.bottom) / 2, p.title);
});

// ---- target panels ----
const targetTimes = d3.range(30).map(i => new Date(T0 + (i + 0.125) * DAY));
const targetPanels = [
  { top: 218.7, bottom: 440, y: [-37.6, 1.78], ticks: [-30, -20, -10, 0], band: [-35.8, -31.4],
    vals: [co2T_red, co2T_gray, co2T_pink], cal: true, zero: true,
    stats: co2TStats, unit: umol, tails: co2TTail },
  { top: 545.3, bottom: 792.7, y: [-150, 6.8], ticks: [-150, -100, -50, 0], band: [-143, -124.8],
    vals: [ch4T_red, ch4T_gray, ch4T_pink], cal: true, zero: true,
    stats: ch4TStats, unit: nmol, tails: ch4TTail },
  { top: 898.3, bottom: 1145.7, y: [-0.00328, 0.0547], ticks: [0, 0.01, 0.02, 0.03, 0.04, 0.05], dec: 2,
    band: [-0.0007, 0.00572], vals: [h2oT_red, h2oT_gray, h2oT_pink], stats: h2oTStats,
    title: [["H", ""], ["2", "sub"], ["O (%vol)", ""]] },
  { top: 1251, bottom: 1498.3, y: [44873, 51831], ticks: [46000, 48000, 50000], band: [45163, 45944],
    vals: [outT_red, outT_gray, outT_pink], stats: outTStats, title: [["Outlet valve", ""]] },
  { top: 1603.7, bottom: 1851.7, y: [35.22, 38.9], ticks: [36, 37, 38], band: [35.38, 35.807],
    vals: [tdasT_red, tdasT_gray, tdasT_pink], stats: tdasTStats, title: [["Tdas (\u00b0C)", ""]] }
];

targetPanels.forEach((p, i) => {
  const { y, L, R } = drawFrame(p, xTarget);
  if (p.cal) drawCal(p, xTarget, y, targetCalibrations);
  const clip = "clipT" + i;
  svg.append("clipPath").attr("id", clip).append("rect")
    .attr("x", L).attr("y", p.top).attr("width", R - L).attr("height", p.bottom - p.top);
  if (p.zero) {
    svg.append("line").attr("x1", L).attr("x2", R).attr("y1", y(0)).attr("y2", y(0))
      .attr("stroke", "#a6a6a6").attr("stroke-width", 1.2);
  }
  const sets = p.vals.map((v, k) => k < 2
    ? v.map((val, j) => ({ t: targetTimes[j], v: val }))
    : v.map((val, j) => ({ t: targetTimes[pinkIndex[j]], v: val })));
  const line = d3.line().x(d => xTarget(d.t)).y(d => y(d.v));
  [1, 0, 2].forEach(k => {
    svg.append("path").datum(sets[k]).attr("clip-path", `url(#${clip})`)
      .attr("fill", "none").attr("stroke", targetColors[k]).attr("stroke-width", 1.6).attr("d", line);
  });
  [0, 1, 2].forEach(k => {
    svg.append("g").attr("clip-path", `url(#${clip})`).selectAll("circle").data(sets[k]).join("circle")
      .attr("cx", d => xTarget(d.t)).attr("cy", d => y(d.v)).attr("r", 3.3).attr("fill", targetColors[k]);
  });
  drawBorder(p, L, R);
  targetLegend(p, p.stats, p.unit, p.tails);
  const cy = (p.top + p.bottom) / 2;
  if (p.title) yTitle(928, cy, p.title);
  else {
    yTitle(911, cy, [["Diff. to calculated (*) or to LR(**)", ""]]);
    yTitle(942, cy, [["or assigned conc.", ""]]);
  }
});

// ---- header ----
const logo = svg.append("g");
logo.append("text").attr("x", 12).attr("y", 86).attr("font-family", "'Open Sans', sans-serif")
  .attr("font-weight", "bold").attr("font-size", 70).attr("letter-spacing", -0.5).attr("fill", "#3d3d3d")
  .text("ICOS");
logo.append("line").attr("x1", 190).attr("x2", 190).attr("y1", 17).attr("y2", 100)
  .attr("stroke", "#3d3d3d").attr("stroke-width", 1.2);
[["#e6306e", 213.5], ["#1d9ad6", 227], ["#e6306e", 240.5]].forEach(([c, cx]) => {
  logo.append("circle").attr("cx", cx).attr("cy", 21).attr("r", 4.2).attr("fill", c);
});
const atc = logo.append("text").attr("font-family", "'Open Sans', sans-serif")
  .attr("font-weight", 600).attr("font-size", 16).attr("fill", "#3d3d3d");
["Atmosphere", "Thematic", "Centre"].forEach((s, i) => {
  atc.append("tspan").attr("x", 208).attr("y", 46.5 + i * 18.2).text(s);
});

svg.append("text").attr("x", 671).attr("y", 50).attr("dy", "0.35em").attr("text-anchor", "middle")
  .attr("font-size", 27).attr("fill", "#111").text("CBW 970 - Last month snapshot");
svg.append("text").attr("x", 671).attr("y", 109).attr("dy", "0.35em").attr("text-anchor", "middle")
  .attr("font-size", 21).attr("fill", "#111").text("2025-04-08 - 2025-05-08");
svg.append("text").attr("x", 1326).attr("y", 25).attr("dy", "0.35em").attr("text-anchor", "end")
  .attr("font-size", 14.5).attr("fill", "#111").text("P0004.2");
svg.append("text").attr("x", 1326).attr("y", 49).attr("dy", "0.35em").attr("text-anchor", "end")
  .attr("font-size", 14.5).attr("fill", "#111").attr("xml:space", "preserve").text("update  2025-05-08 04:59");
svg.append("text").attr("x", 497).attr("y", 137).attr("dy", "0.35em").attr("text-anchor", "middle")
  .attr("font-size", 21).attr("font-weight", "bold").attr("fill", "#000").text("Ambient air (hour data)");
svg.append("text").attr("x", 1167.5).attr("y", 137).attr("dy", "0.35em").attr("text-anchor", "middle")
  .attr("font-size", 21).attr("font-weight", "bold").attr("fill", "#000").text("Target gas (injection data)");

// ---- bottom legend ----
const foot = svg.append("g").attr("font-size", 18).attr("fill", "#111");
foot.append("line").attr("x1", 160).attr("x2", 160).attr("y1", 1899).attr("y2", 1924)
  .attr("stroke", "#4682b4").attr("stroke-width", 1.2);
foot.append("text").attr("x", 203).attr("y", 1912).attr("dy", "0.35em").text("Invalid data");
foot.append("line").attr("x1", 160).attr("x2", 160).attr("y1", 1948).attr("y2", 1973)
  .attr("stroke", "#000").attr("stroke-width", 1.2);
foot.append("text").attr("x", 203).attr("y", 1962).attr("dy", "0.35em").text("No data generated");
foot.append("path").attr("d", "M577.5,1903.5L595.5,1921.5M595.5,1903.5L577.5,1921.5")
  .attr("stroke", "#ff0000").attr("stroke-width", 1.2).attr("fill", "none");
foot.append("text").attr("x", 630).attr("y", 1912).attr("dy", "0.35em").text("Invalid Calibration");
foot.append("circle").attr("cx", 586.5).attr("cy", 1962).attr("r", 8.5)
  .attr("fill", "none").attr("stroke", "#ffa500").attr("stroke-width", 1.2);
foot.append("text").attr("x", 630).attr("y", 1962).attr("dy", "0.35em").text("Valid Calibration");
</script>
</body>
</html>
